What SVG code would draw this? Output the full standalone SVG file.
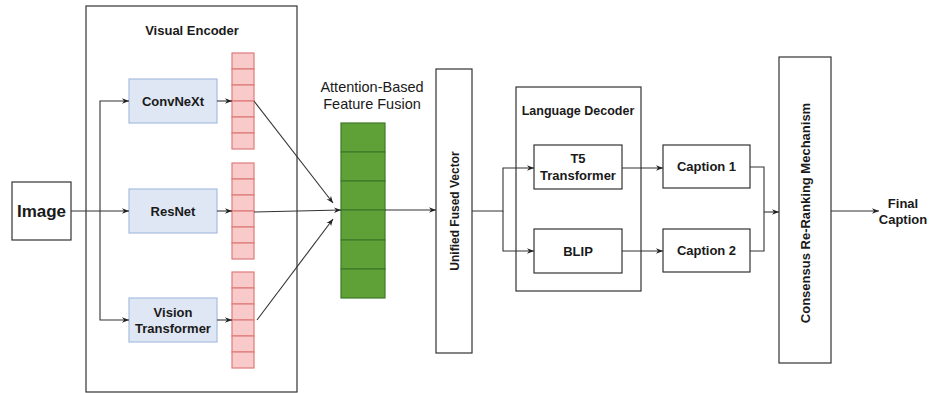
<svg xmlns="http://www.w3.org/2000/svg" width="929" height="393" viewBox="0 0 929 393">
  <style>
    text { font-family: "Liberation Sans", Arial, sans-serif; fill: #1a1a1a; }
    .b { font-weight: bold; }
    .box { fill: #ffffff; stroke: #333333; stroke-width: 1.2; }
    .enc { fill: #dfe7f5; stroke: #a9bde0; stroke-width: 1.2; }
    .cell { fill: #f8caca; stroke: #e07a7a; stroke-width: 1.2; }
    .gcell { fill: #5fa037; stroke: #3e7a28; stroke-width: 1.2; }
    .edge { fill: none; stroke: #333333; stroke-width: 1.1; }
  </style>
  <defs>
    <marker id="arrow" viewBox="0 0 10 10" refX="10" refY="5" markerWidth="7" markerHeight="7" markerUnits="userSpaceOnUse" orient="auto">
      <path d="M0,1 L10,5 L0,9 L3,5 z" fill="#222222"/>
    </marker>
  </defs>
  <rect width="929" height="393" fill="#ffffff"/>

  <g id="visual-encoder">
    <rect class="box" x="86" y="6" width="211" height="386"/>
    <text class="b" x="192" y="35" font-size="13" text-anchor="middle">Visual Encoder</text>
  </g>

  <g id="image">
    <rect class="box" x="12" y="182" width="59" height="58"/>
    <text class="b" x="41.5" y="217" font-size="17" text-anchor="middle">Image</text>
  </g>

  <g id="convnext">
    <rect class="enc" x="129" y="79" width="88" height="44"/>
    <text class="b" x="173" y="106" font-size="13" text-anchor="middle">ConvNeXt</text>
  </g>
  <g id="resnet">
    <rect class="enc" x="129" y="189" width="88" height="44"/>
    <text class="b" x="173" y="216" font-size="13" text-anchor="middle">ResNet</text>
  </g>
  <g id="vit">
    <rect class="enc" x="129" y="298" width="88" height="44"/>
    <text class="b" x="173" y="317" font-size="13" text-anchor="middle">Vision</text>
    <text class="b" x="173" y="333" font-size="13" text-anchor="middle">Transformer</text>
  </g>

  <g id="feat-convnext">
    <rect class="cell" x="232" y="53" width="22" height="16"/>
    <rect class="cell" x="232" y="69" width="22" height="16"/>
    <rect class="cell" x="232" y="85" width="22" height="16"/>
    <rect class="cell" x="232" y="101" width="22" height="16"/>
    <rect class="cell" x="232" y="117" width="22" height="16"/>
    <rect class="cell" x="232" y="133" width="22" height="16"/>
  </g>
  <g id="feat-resnet">
    <rect class="cell" x="232" y="163" width="22" height="16"/>
    <rect class="cell" x="232" y="179" width="22" height="16"/>
    <rect class="cell" x="232" y="195" width="22" height="16"/>
    <rect class="cell" x="232" y="211" width="22" height="16"/>
    <rect class="cell" x="232" y="227" width="22" height="16"/>
    <rect class="cell" x="232" y="243" width="22" height="16"/>
  </g>
  <g id="feat-vit">
    <rect class="cell" x="232" y="272" width="22" height="16"/>
    <rect class="cell" x="232" y="288" width="22" height="16"/>
    <rect class="cell" x="232" y="304" width="22" height="16"/>
    <rect class="cell" x="232" y="320" width="22" height="16"/>
    <rect class="cell" x="232" y="336" width="22" height="16"/>
    <rect class="cell" x="232" y="352" width="22" height="16"/>
  </g>

  <g id="fusion">
    <text x="372" y="92" font-size="14.5" text-anchor="middle">Attention-Based</text>
    <text x="372" y="109" font-size="14.5" text-anchor="middle">Feature Fusion</text>
    <rect class="gcell" x="341" y="123" width="44" height="29"/>
    <rect class="gcell" x="341" y="152" width="44" height="29"/>
    <rect class="gcell" x="341" y="181" width="44" height="29"/>
    <rect class="gcell" x="341" y="210" width="44" height="30"/>
    <rect class="gcell" x="341" y="240" width="44" height="29"/>
    <rect class="gcell" x="341" y="269" width="44" height="29"/>
  </g>

  <g id="unified-vector">
    <rect class="box" x="436" y="69" width="36" height="284"/>
    <text class="b" x="0" y="0" font-size="12" text-anchor="middle" transform="translate(458.5 211) rotate(-90)">Unified Fused Vector</text>
  </g>

  <g id="language-decoder">
    <rect class="box" x="516" y="87" width="125" height="204"/>
    <text class="b" x="578" y="115" font-size="12.5" text-anchor="middle">Language Decoder</text>
  </g>
  <g id="t5">
    <rect class="box" x="534" y="145" width="88" height="44"/>
    <text class="b" x="578" y="163" font-size="13" text-anchor="middle">T5</text>
    <text class="b" x="578" y="180" font-size="13" text-anchor="middle">Transformer</text>
  </g>
  <g id="blip">
    <rect class="box" x="534" y="229" width="88" height="44"/>
    <text class="b" x="578" y="256" font-size="13" text-anchor="middle">BLIP</text>
  </g>

  <g id="caption1">
    <rect class="box" x="663" y="145" width="87" height="43"/>
    <text class="b" x="706.5" y="171" font-size="13" text-anchor="middle">Caption 1</text>
  </g>
  <g id="caption2">
    <rect class="box" x="663" y="229" width="87" height="43"/>
    <text class="b" x="706.5" y="255" font-size="13" text-anchor="middle">Caption 2</text>
  </g>

  <g id="consensus">
    <rect class="box" x="779" y="57" width="52" height="306"/>
    <text class="b" x="0" y="0" font-size="13" text-anchor="middle" transform="translate(810 213) rotate(-90)">Consensus Re-Ranking Mechanism</text>
  </g>

  <g id="final-caption">
    <text class="b" x="903" y="208" font-size="13" text-anchor="middle">Final</text>
    <text class="b" x="903" y="224" font-size="13" text-anchor="middle">Caption</text>
  </g>

  <g id="connectors">
    <path class="edge" d="M71,211 L129,211" marker-end="url(#arrow)"/>
    <path class="edge" d="M100,211 L100,101 L129,101" marker-end="url(#arrow)"/>
    <path class="edge" d="M100,211 L100,320 L129,320" marker-end="url(#arrow)"/>
    <path class="edge" d="M217,101 L232,101" marker-end="url(#arrow)"/>
    <path class="edge" d="M217,211 L232,211" marker-end="url(#arrow)"/>
    <path class="edge" d="M217,320 L232,320" marker-end="url(#arrow)"/>
    <path class="edge" d="M254,101 L333,203" marker-end="url(#arrow)"/>
    <path class="edge" d="M254,212 L341,210" marker-end="url(#arrow)"/>
    <path class="edge" d="M257,320 L333,219" marker-end="url(#arrow)"/>
    <path class="edge" d="M385,210 L436,210" marker-end="url(#arrow)"/>
    <path class="edge" d="M472,211 L503,211 L503,168 L534,168" marker-end="url(#arrow)"/>
    <path class="edge" d="M503,211 L503,251 L534,251" marker-end="url(#arrow)"/>
    <path class="edge" d="M622,168 L663,168" marker-end="url(#arrow)"/>
    <path class="edge" d="M622,251 L663,251" marker-end="url(#arrow)"/>
    <path class="edge" d="M750,167 L764,167 L764,251 L750,251"/>
    <path class="edge" d="M764,212 L779,212" marker-end="url(#arrow)"/>
    <path class="edge" d="M831,211 L879,211" marker-end="url(#arrow)"/>
  </g>
</svg>
